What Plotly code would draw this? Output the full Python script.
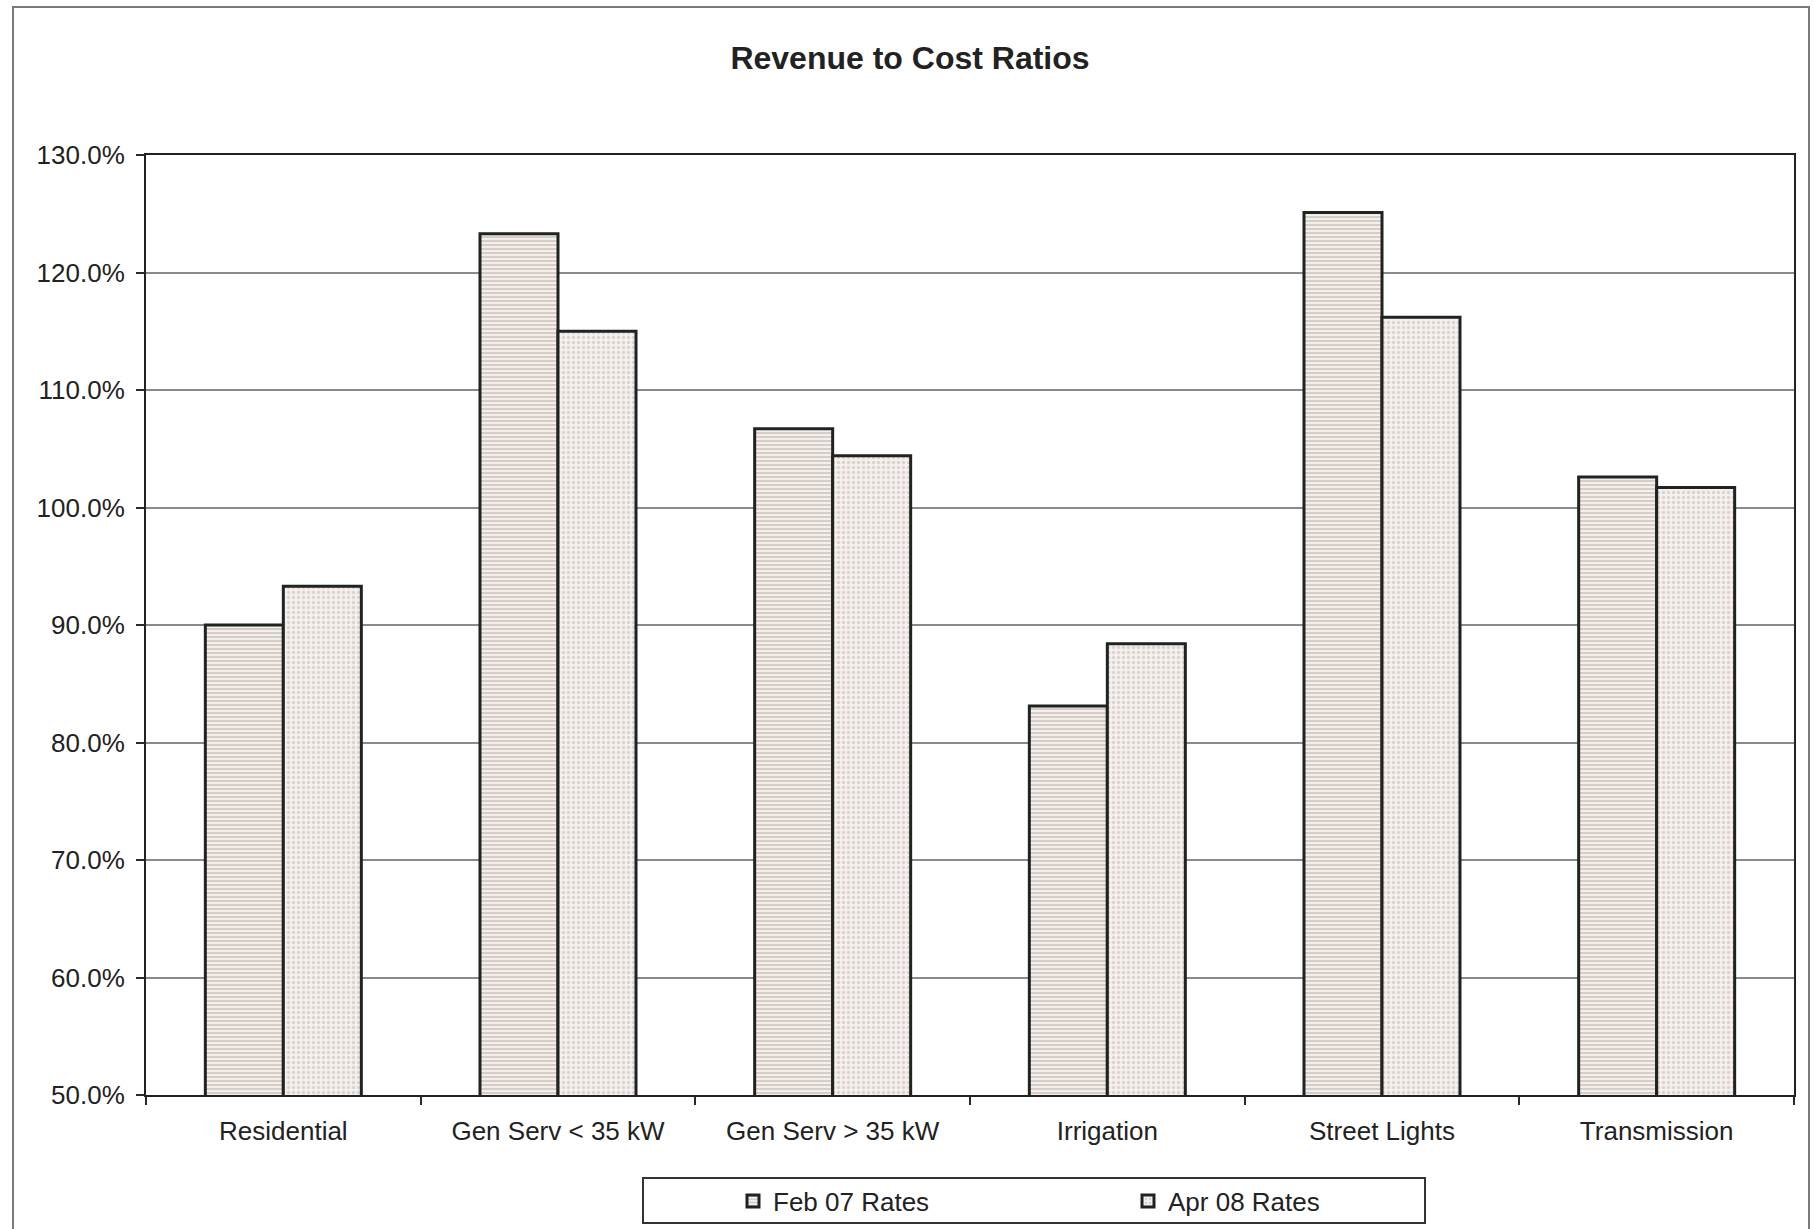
import plotly.graph_objects as go

categories = ["Residential", "Gen Serv < 35 kW", "Gen Serv > 35 kW", "Irrigation", "Street Lights", "Transmission"]
feb07_rates = [0.900, 1.233, 1.067, 0.831, 1.251, 1.026]
apr08_rates = [0.933, 1.150, 1.044, 0.884, 1.162, 1.017]
series_names = ["Feb 07 Rates", "Apr 08 Rates"]
y_ticks = [0.5, 0.6, 0.7, 0.8, 0.9, 1.0, 1.1, 1.2, 1.3]

W, H = 1814, 1229
L, R, T, B = 146, 20, 155, 134
pw, ph = W - L - R, H - T - B

FONT = "Liberation Sans, Arial, sans-serif"
TXT = "#222222"

fig = go.Figure()
fig.add_trace(go.Bar(
    x=categories, y=feb07_rates, name=series_names[0],
    marker=dict(color="#f2ece8", line=dict(color="#1f2321", width=3),
                pattern=dict(shape="-", size=4, solidity=0.4, fgcolor="#a89b92", bgcolor="#f4efeb")),
))
fig.add_trace(go.Bar(
    x=categories, y=apr08_rates, name=series_names[1],
    marker=dict(color="#f3eeec", line=dict(color="#1f2321", width=3),
                pattern=dict(shape=".", size=5, solidity=0.35, fgcolor="#c2b5b1", bgcolor="#f5f0ee")),
))

def px_x(px):
    return (px - L) / pw

def px_y(py):
    return (H - B - py) / ph

fig.update_layout(
    width=W, height=H,
    margin=dict(l=L, r=R, t=T, b=B, autoexpand=False),
    paper_bgcolor="white", plot_bgcolor="white",
    barmode="group", bargap=0.432, bargroupgap=0,
    font=dict(family=FONT, size=26, color=TXT),
    title=dict(text="<b>Revenue to Cost Ratios</b>", font=dict(family=FONT, size=32, color=TXT),
               x=910 / W, xref="container", xanchor="center",
               y=1 - 58 / H, yref="container", yanchor="middle"),
    showlegend=True,
    legend=dict(orientation="h", x=px_x(733), xanchor="left", y=px_y(1201), yanchor="middle",
                bgcolor="rgba(0,0,0,0)", borderwidth=0,
                entrywidth=350, entrywidthmode="pixels",
                font=dict(family=FONT, size=26, color=TXT), traceorder="normal"),
    xaxis=dict(showgrid=False, showline=True, linecolor="#222222", linewidth=2, mirror=True,
               ticks="outside", tickson="boundaries", ticklen=8, tickcolor="#2a2a2a", tickwidth=1.5,
               automargin=False,
               ticklabelstandoff=12, tickfont=dict(family=FONT, size=26, color=TXT)),
    yaxis=dict(range=[0.5, 1.3], tickvals=y_ticks, tickformat=".1%",
               showgrid=True, gridcolor="#8a8a8a", gridwidth=1.5,
               showline=True, linecolor="#222222", linewidth=2, mirror=True,
               ticks="outside", ticklen=8, tickcolor="#2a2a2a", tickwidth=1.5, automargin=False,
               ticklabelstandoff=6, tickfont=dict(family=FONT, size=26, color=TXT), zeroline=False),
    shapes=[
        # outer chart frame
        dict(type="rect", xref="paper", yref="paper",
             x0=px_x(13), x1=px_x(1809), y0=px_y(1240), y1=px_y(7),
             line=dict(color="#7a7a7a", width=2), fillcolor="rgba(0,0,0,0)", layer="below"),
        # legend box
        dict(type="rect", xref="paper", yref="paper",
             x0=px_x(643), x1=px_x(1425), y0=px_y(1223), y1=px_y(1178),
             line=dict(color="#333333", width=2), fillcolor="rgba(0,0,0,0)"),
    ],
)

fig.write_html("out.html", config={"displayModeBar": False},
               post_script="document.body.style.margin='0';document.body.style.overflow='hidden';")
